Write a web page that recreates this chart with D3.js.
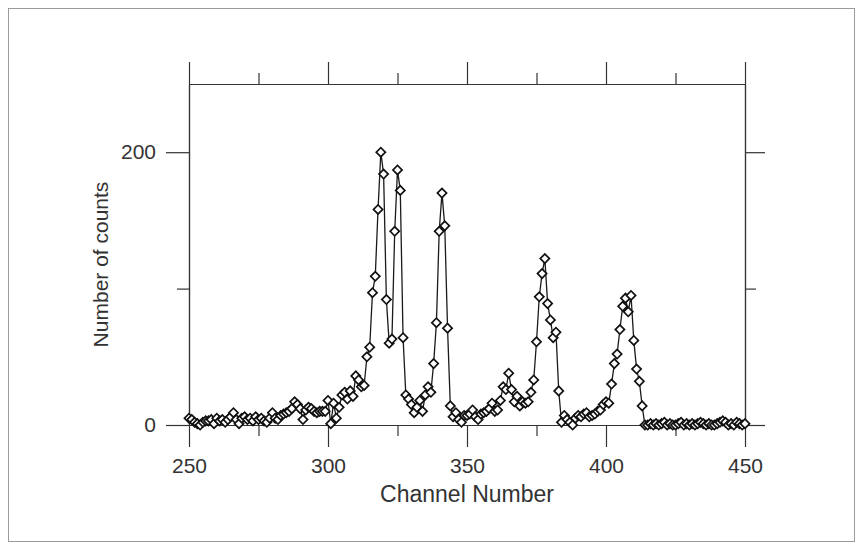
<!DOCTYPE html>
<html>
<head>
<meta charset="utf-8">
<script src="https://cdn.jsdelivr.net/npm/d3@7"></script>
<style>
  html, body { margin: 0; padding: 0; background: #fff; }
  svg { display: block; }
  text { font-family: "Liberation Sans", Arial, Helvetica, sans-serif; fill: #333; }
</style>
</head>
<body>
<svg id="chart" width="863" height="551"></svg>
<script>
// Spectrum: counts per channel, channels 250..450
const firstChannel = 250;
const counts = [
  5, 4, 2, 1, 0, 2, 3, 3, 4, 1,            // 250
  5, 3, 4, 2, 4, 6, 9, 4, 1, 5,            // 260
  6, 4, 5, 3, 6, 4, 5, 3, 2, 5,            // 270
  9, 5, 4, 7, 8, 9, 10, 12, 17, 15,        // 280
  12, 4, 11, 13, 12, 10, 9, 10, 10, 10,    // 290
  18, 1, 16, 5, 13, 22, 24, 19, 25, 21,    // 300
  36, 33, 28, 29, 50, 57, 97, 109, 158, 200, // 310
  184, 92, 60, 63, 142, 187, 172, 64, 22, 19, // 320
  15, 9, 13, 18, 10, 22, 28, 24, 45, 75,   // 330
  142, 170, 146, 71, 14, 6, 9, 4, 2, 7,    // 340
  7, 8, 11, 6, 4, 8, 9, 10, 12, 16,        // 350
  10, 11, 18, 28, 26, 38, 26, 17, 21, 14,  // 360
  17, 16, 17, 24, 33, 61, 94, 111, 122, 89, // 370
  77, 64, 68, 25, 2, 7, 4, 2, 0, 5,        // 380
  7, 6, 8, 9, 6, 7, 8, 10, 11, 15,         // 390
  17, 16, 30, 45, 52, 70, 87, 93, 83, 95,  // 400
  62, 41, 32, 14, 0, 0, 1, 0, 1, 0,        // 410
  1, 2, 0, 1, 0, 0, 1, 2, 0, 1,            // 420
  0, 1, 0, 1, 2, 1, 0, 1, 0, 0,            // 430
  1, 2, 3, 2, 0, 1, 0, 2, 1, 0,            // 440
  1                                        // 450
];

const xDomain = [250, 450];
const yDomain = [0, 250];
const xMajorTicks = [250, 300, 350, 400, 450];
const xMinorTicks = [275, 325, 375, 425];
const yMajorTicks = [0, 200];
const yMinorTicks = [100];
const xTitle = "Channel Number";
const yTitle = "Number of counts";

const points = counts.map((v, i) => ({ channel: firstChannel + i, value: v }));

const svg = d3.select("#chart");
const plot = { left: 189, right: 745, top: 84, bottom: 425 };

const x = d3.scaleLinear().domain(xDomain).range([plot.left, plot.right]);
const y = d3.scaleLinear().domain(yDomain).range([plot.bottom, plot.top]);

// outer frame
svg.append("rect")
  .attr("x", 8.5).attr("y", 8.5)
  .attr("width", 846).attr("height", 533)
  .attr("fill", "none")
  .attr("stroke", "#9a9a9a")
  .attr("stroke-width", 1);

const axisColor = "#333";
const majorLen = 22, minorLen = 11;

function styleAxis(g) {
  g.selectAll("path.domain").attr("stroke", axisColor).attr("stroke-width", 1.2);
  g.selectAll(".tick line").attr("stroke", axisColor).attr("stroke-width", 1.2);
  g.selectAll(".tick text")
    .attr("fill", "#333")
    .style("font-size", "21px")
    .style("font-family", "'Liberation Sans', Arial, Helvetica, sans-serif");
}

// bottom axis with labels
svg.append("g")
  .attr("transform", `translate(0,${plot.bottom})`)
  .call(d3.axisBottom(x).tickValues(xMajorTicks).tickSize(majorLen).tickSizeOuter(0)
    .tickPadding(11).tickFormat(d3.format("d")))
  .call(styleAxis);
svg.append("g")
  .attr("transform", `translate(0,${plot.bottom})`)
  .call(d3.axisBottom(x).tickValues(xMinorTicks).tickSize(minorLen).tickSizeOuter(0).tickFormat(""))
  .call(styleAxis);

// top axis
svg.append("g")
  .attr("transform", `translate(0,${plot.top})`)
  .call(d3.axisTop(x).tickValues(xMajorTicks).tickSize(majorLen).tickSizeOuter(0).tickFormat(""))
  .call(styleAxis);
svg.append("g")
  .attr("transform", `translate(0,${plot.top})`)
  .call(d3.axisTop(x).tickValues(xMinorTicks).tickSize(minorLen).tickSizeOuter(0).tickFormat(""))
  .call(styleAxis);

// left axis with labels
svg.append("g")
  .attr("transform", `translate(${plot.left},0)`)
  .call(d3.axisLeft(y).tickValues(yMajorTicks).tickSize(majorLen + 1).tickSizeOuter(0)
    .tickPadding(10).tickFormat(d3.format("d")))
  .call(styleAxis);
svg.append("g")
  .attr("transform", `translate(${plot.left},0)`)
  .call(d3.axisLeft(y).tickValues(yMinorTicks).tickSize(minorLen + 1).tickSizeOuter(0).tickFormat(""))
  .call(styleAxis);

// right axis
svg.append("g")
  .attr("transform", `translate(${plot.right},0)`)
  .call(d3.axisRight(y).tickValues(yMajorTicks).tickSize(20).tickSizeOuter(0).tickFormat(""))
  .call(styleAxis);
svg.append("g")
  .attr("transform", `translate(${plot.right},0)`)
  .call(d3.axisRight(y).tickValues(yMinorTicks).tickSize(minorLen).tickSizeOuter(0).tickFormat(""))
  .call(styleAxis);

// axis titles
svg.append("text")
  .attr("x", (plot.left + plot.right) / 2)
  .attr("y", 502)
  .attr("text-anchor", "middle")
  .style("font-size", "23px")
  .text(xTitle);

svg.append("text")
  .attr("transform", `translate(108,${(plot.top + plot.bottom) / 2 + 10}) rotate(-90)`)
  .attr("text-anchor", "middle")
  .style("font-size", "21px")
  .text(yTitle);

// connecting line
const line = d3.line()
  .x(d => x(d.channel))
  .y(d => y(d.value));

svg.append("path")
  .datum(points)
  .attr("d", line)
  .attr("fill", "none")
  .attr("stroke", "#1a1a1a")
  .attr("stroke-width", 1.3);

// diamond markers
const diamond = d3.symbol().type(d3.symbolSquare).size(42);
svg.append("g")
  .selectAll("path")
  .data(points)
  .join("path")
  .attr("d", diamond)
  .attr("transform", d => `translate(${x(d.channel)},${y(d.value)}) rotate(45)`)
  .attr("fill", "#fff")
  .attr("stroke", "#111")
  .attr("stroke-width", 1.7);
</script>
</body>
</html>
